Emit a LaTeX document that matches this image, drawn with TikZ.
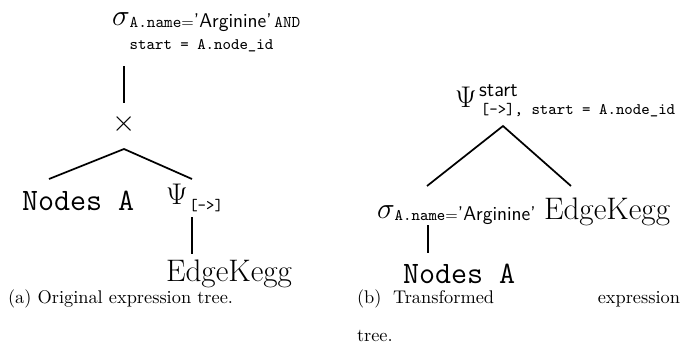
\documentclass[tikz,border=0pt]{standalone}
\usepackage{fontspec}
\usepackage{amsmath}
\newcommand\ttsub{\fontsize{9.3}{12.7}\selectfont\ttfamily}
\newcommand\ttsubb{\fontsize{9.5}{12.7}\selectfont\ttfamily}
\newcommand\sfsub{\fontsize{11.5}{13}\selectfont\sffamily}
\newcommand\bigtt{\fontsize{18}{20}\selectfont\ttfamily}
\newcommand\bigrm{\fontsize{18}{20}\selectfont\rmfamily}
\newcommand\capfont{\fontsize{10.6}{22}\selectfont\rmfamily}
\begin{document}
\begin{tikzpicture}[x=0.578pt,y=-0.578pt,
  lbl/.style={anchor=base west,inner sep=0pt,outer sep=0pt},
  edge/.style={line width=1pt}]
\useasboundingbox (0,0) rectangle (687,354);
% ---- (a) original tree
\node[lbl] (sigA) at (112,25.5) {{\LARGE$\sigma$}\raisebox{-1pt}{\ttsub\begin{tabular}[t]{@{}l@{}}{\ttsubb A.name}{\ttsubb$=$}{\sfsub 'Arginine'}\kern1.5pt{\ttsubb AND}\\start = A.node\_id\end{tabular}}};
\node[inner sep=0pt] (times) at (124.5,124.5) {\LARGE$\times$};
\node[lbl] (ndA) at (22,210) {\bigtt Nodes A};
\node[lbl] (psiA) at (166,204) {{\LARGE$\Psi$}\kern1pt\raisebox{-4pt}{\ttsub [->]}};
\node[lbl] (ekA) at (166,281) {\bigrm EdgeKegg};
\coordinate (sigAlow) at (124,66);
\coordinate (timesTop) at (124,103);
\coordinate (timesApex) at (124,149);
\coordinate (ndATop) at (49,179);
\coordinate (psiATop) at (192,179);
\coordinate (psiALow) at (192,217);
\coordinate (ekATop) at (192,254);
\draw[edge] (sigAlow) -- (timesTop);
\draw[edge] (ndATop) -- (timesApex) -- (psiATop);
\draw[edge] (psiALow) -- (ekATop);
% ---- (b) transformed tree
\node[lbl] (psiB) at (455,107) {{\LARGE$\Psi$}\kern1.5pt\rlap{\raisebox{5.8pt}{\fontsize{12}{14}\selectfont\sffamily start}}\kern1pt\raisebox{-4.6pt}{\ttsub [->], start = A.node\_id}};
\node[lbl] (sigB) at (377,218) {{\LARGE$\sigma$}\raisebox{-1.7pt}{\ttsub A.name{$=$}{\sfsub 'Arginine'}}};
\node[lbl] (ekB) at (544,219) {\bigrm EdgeKegg};
\node[lbl] (ndB) at (403,283) {\bigtt Nodes A};
\coordinate (psiBApex) at (503,126);
\coordinate (sigBTop) at (427,186);
\coordinate (ekBTop) at (571,186);
\coordinate (sigBLow) at (428,225);
\coordinate (ndBTop) at (428,253);
\draw[edge] (sigBTop) -- (psiBApex) -- (ekBTop);
\draw[edge] (sigBLow) -- (ndBTop);
% ---- captions
\node[lbl] (capA) at (8,303) {\capfont (a) Original expression tree.};
\node[lbl] (capB) at (357,303) {\capfont\begin{tabular}[t]{@{}l@{}}\makebox[186.7pt][l]{(b)\hskip 6.7pt Transformed\hfill expression}\\tree.\end{tabular}};
\end{tikzpicture}
\end{document}
